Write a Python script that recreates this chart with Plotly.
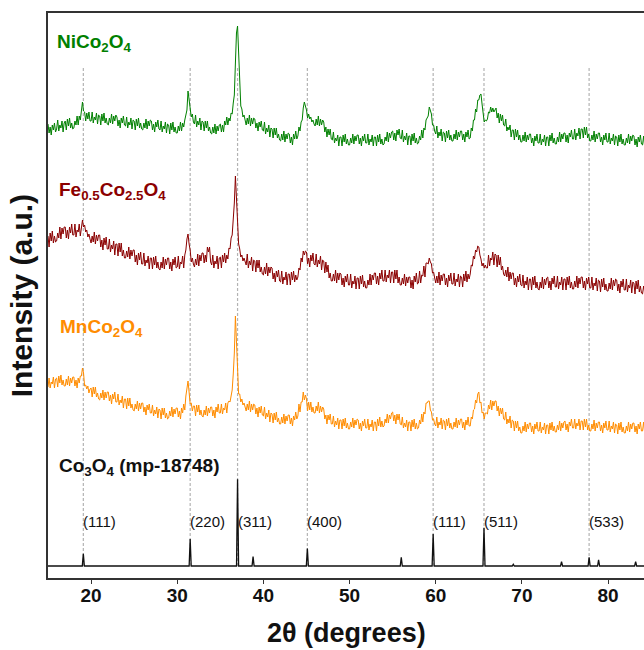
import numpy as np
import plotly.graph_objects as go

# ---- measured patterns: intensity (a.u.), one row per degree, 0.125 deg steps from 15 deg ----
TWO_THETA_START = 15.0
TWO_THETA_STEP = 0.125

nico2o4 = [
    34, 25, 31, 23, 33, 28, 35, 26,
    29, 38, 27, 33, 30, 37, 26, 35,
    37, 28, 39, 32, 40, 30, 35, 29,
    30, 37, 33, 42, 33, 42, 38, 46,
    56, 47, 46, 37, 45, 39, 46, 37,
    37, 46, 35, 41, 38, 45, 34, 43,
    42, 33, 44, 37, 45, 35, 40, 34,
    33, 40, 35, 44, 34, 42, 37, 43,
    41, 32, 38, 30, 40, 35, 42, 33,
    32, 41, 30, 36, 33, 40, 29, 38,
    37, 28, 39, 32, 40, 30, 35, 29,
    28, 35, 30, 39, 29, 37, 32, 38,
    37, 28, 34, 26, 36, 31, 38, 29,
    28, 37, 26, 32, 29, 36, 25, 34,
    33, 24, 35, 28, 36, 26, 31, 25,
    25, 32, 27, 36, 27, 35, 31, 38,
    44, 48, 67, 57, 50, 41, 44, 36,
    34, 43, 31, 37, 33, 40, 28, 37,
    36, 27, 37, 30, 37, 27, 31, 25,
    24, 31, 25, 34, 24, 32, 27, 33,
    34, 26, 33, 26, 37, 33, 41, 33,
    40, 37, 45, 44, 55, 63, 95, 125,
    132, 100, 66, 52, 49, 41, 43, 37,
    33, 40, 34, 43, 32, 40, 34, 40,
    39, 30, 35, 27, 36, 31, 37, 28,
    27, 36, 24, 30, 26, 33, 21, 30,
    29, 20, 30, 23, 30, 20, 24, 18,
    17, 24, 18, 27, 16, 24, 19, 25,
    24, 15, 21, 13, 24, 19, 27, 19,
    22, 31, 27, 36, 38, 50, 56, 52,
    48, 40, 44, 39, 41, 36, 38, 34,
    32, 39, 33, 42, 32, 39, 33, 38,
    36, 26, 31, 21, 29, 23, 29, 19,
    18, 26, 15, 20, 17, 23, 12, 21,
    21, 12, 23, 16, 24, 14, 19, 13,
    13, 20, 15, 24, 14, 22, 17, 23,
    23, 14, 20, 12, 22, 17, 24, 15,
    15, 24, 13, 19, 16, 23, 12, 21,
    21, 12, 23, 16, 24, 14, 19, 13,
    14, 21, 17, 26, 16, 25, 20, 26,
    27, 18, 25, 17, 28, 23, 29, 20,
    19, 28, 16, 22, 18, 25, 13, 22,
    22, 13, 24, 17, 25, 15, 20, 14,
    15, 22, 18, 28, 20, 30, 28, 38,
    40, 42, 51, 46, 44, 33, 33, 27,
    24, 32, 20, 26, 22, 29, 17, 26,
    25, 16, 27, 20, 28, 18, 23, 17,
    17, 24, 19, 28, 18, 26, 21, 27,
    27, 18, 24, 16, 26, 21, 28, 19,
    20, 30, 27, 38, 38, 49, 46, 58,
    58, 63, 64, 54, 47, 36, 38, 37,
    39, 46, 45, 51, 46, 50, 46, 49,
    50, 40, 45, 35, 44, 37, 43, 33,
    32, 39, 27, 31, 28, 33, 21, 28,
    28, 18, 29, 21, 28, 18, 23, 16,
    16, 23, 17, 26, 16, 23, 18, 24,
    24, 15, 20, 12, 22, 17, 24, 15,
    15, 24, 13, 19, 16, 23, 12, 21,
    21, 12, 23, 17, 25, 15, 20, 14,
    14, 21, 16, 26, 16, 24, 19, 25,
    25, 16, 23, 15, 25, 21, 28, 19,
    19, 29, 18, 25, 22, 30, 19, 29,
    29, 20, 31, 23, 31, 20, 24, 17,
    17, 23, 18, 27, 16, 24, 19, 25,
    25, 16, 21, 13, 23, 18, 25, 16,
    16, 25, 14, 20, 17, 24, 13, 22,
    21, 12, 23, 16, 24, 14, 19, 13,
    13, 20, 15, 24, 14, 22, 17, 23,
    22, 13, 19, 11, 21, 16, 23, 14,
    13, 22, 11,
]

fe05co25o4 = [
    72, 61, 75, 67, 77, 65, 72, 66,
    67, 75, 70, 81, 69, 80, 74, 81,
    81, 70, 78, 69, 81, 75, 84, 73,
    73, 84, 71, 78, 76, 84, 72, 84,
    88, 81, 83, 76, 78, 71, 74, 69,
    65, 72, 66, 76, 64, 73, 67, 73,
    73, 61, 68, 58, 70, 63, 71, 59,
    59, 69, 56, 63, 59, 67, 53, 64,
    64, 52, 65, 56, 65, 52, 58, 50,
    50, 57, 51, 61, 49, 58, 52, 58,
    58, 46, 53, 43, 55, 48, 56, 44,
    44, 55, 42, 48, 45, 52, 39, 50,
    50, 39, 51, 43, 52, 40, 46, 39,
    38, 46, 40, 51, 39, 49, 43, 50,
    50, 39, 46, 37, 49, 43, 51, 40,
    41, 52, 39, 46, 44, 52, 40, 53,
    58, 69, 74, 64, 58, 46, 50, 44,
    41, 49, 43, 54, 42, 53, 47, 55,
    55, 45, 53, 46, 61, 56, 61, 46,
    43, 53, 40, 47, 44, 52, 39, 50,
    51, 40, 53, 46, 55, 45, 53, 49,
    60, 59, 70, 73, 87, 105, 132, 110,
    80, 64, 59, 51, 53, 47, 50, 45,
    43, 54, 40, 47, 43, 51, 37, 48,
    47, 36, 48, 40, 48, 36, 41, 34,
    33, 41, 34, 45, 32, 41, 35, 41,
    40, 29, 35, 26, 37, 31, 38, 27,
    26, 37, 24, 31, 28, 36, 23, 34,
    34, 23, 36, 28, 37, 26, 33, 28,
    31, 40, 38, 50, 46, 57, 53, 57,
    56, 44, 50, 41, 53, 47, 55, 44,
    43, 54, 41, 48, 44, 52, 38, 48,
    47, 35, 46, 36, 43, 30, 35, 27,
    27, 34, 27, 38, 25, 35, 28, 35,
    34, 23, 30, 21, 32, 26, 34, 23,
    23, 34, 20, 27, 24, 32, 19, 30,
    30, 19, 32, 24, 33, 21, 27, 20,
    20, 28, 23, 34, 23, 33, 28, 35,
    35, 24, 32, 23, 35, 29, 38, 27,
    27, 38, 26, 33, 30, 38, 25, 36,
    36, 25, 38, 29, 38, 25, 31, 23,
    23, 30, 24, 34, 22, 31, 25, 31,
    31, 20, 28, 19, 32, 26, 35, 24,
    25, 37, 25, 33, 32, 42, 31, 45,
    45, 44, 50, 46, 44, 35, 36, 30,
    25, 32, 25, 36, 23, 33, 27, 34,
    34, 23, 30, 21, 33, 27, 35, 24,
    24, 35, 22, 29, 26, 34, 21, 32,
    31, 21, 34, 27, 37, 26, 34, 29,
    34, 43, 42, 52, 49, 58, 56, 62,
    61, 53, 49, 42, 45, 40, 43, 40,
    40, 53, 42, 50, 48, 56, 43, 54,
    53, 41, 53, 43, 51, 38, 42, 34,
    32, 38, 31, 41, 27, 36, 29, 35,
    35, 23, 30, 21, 32, 26, 34, 23,
    22, 33, 20, 27, 23, 31, 18, 29,
    29, 18, 31, 23, 32, 20, 26, 19,
    18, 26, 20, 31, 19, 29, 23, 30,
    31, 20, 27, 18, 30, 24, 32, 21,
    21, 32, 19, 26, 23, 31, 18, 29,
    29, 18, 31, 23, 32, 20, 26, 19,
    19, 27, 21, 32, 20, 30, 24, 31,
    31, 20, 27, 18, 30, 24, 31, 20,
    20, 31, 18, 25, 22, 30, 17, 28,
    27, 16, 29, 21, 30, 18, 24, 17,
    17, 25, 19, 30, 18, 28, 22, 29,
    28, 17, 24, 15, 27, 21, 29, 18,
    18, 29, 16, 23, 20, 28, 15, 26,
    25, 14, 27, 19, 28, 16, 22, 15,
    14, 22, 16,
]

mnco2o4 = [
    61, 70, 60, 66, 64, 71, 60, 69,
    70, 61, 72, 65, 73, 63, 68, 62,
    62, 69, 63, 72, 62, 70, 65, 71,
    71, 62, 68, 60, 70, 65, 72, 72,
    80, 75, 62, 63, 59, 62, 55, 59,
    60, 51, 61, 54, 61, 51, 55, 49,
    48, 55, 50, 58, 48, 56, 50, 56,
    56, 47, 53, 44, 54, 49, 56, 46,
    46, 54, 43, 48, 45, 52, 40, 49,
    49, 39, 50, 42, 50, 40, 44, 38,
    37, 44, 39, 47, 37, 45, 39, 45,
    45, 36, 41, 33, 43, 38, 44, 35,
    35, 43, 32, 38, 34, 41, 30, 39,
    38, 29, 40, 33, 40, 30, 35, 29,
    30, 37, 32, 41, 31, 39, 34, 40,
    40, 31, 37, 29, 40, 35, 44, 38,
    52, 58, 67, 56, 44, 45, 37, 42,
    42, 32, 43, 36, 43, 33, 38, 32,
    31, 38, 33, 42, 32, 40, 35, 41,
    41, 32, 38, 30, 41, 36, 44, 35,
    35, 44, 34, 40, 38, 45, 35, 45,
    47, 46, 55, 58, 74, 95, 132, 100,
    70, 54, 54, 46, 49, 43, 45, 40,
    37, 44, 38, 47, 36, 44, 38, 44,
    43, 34, 40, 31, 41, 35, 42, 33,
    32, 41, 29, 35, 31, 38, 26, 35,
    34, 25, 35, 28, 36, 26, 30, 24,
    24, 31, 25, 34, 24, 32, 27, 33,
    33, 24, 30, 22, 32, 28, 36, 29,
    32, 44, 36, 46, 46, 56, 48, 53,
    49, 37, 46, 38, 46, 36, 41, 35,
    35, 42, 37, 46, 35, 42, 36, 41,
    39, 29, 33, 24, 33, 28, 34, 24,
    24, 32, 21, 27, 23, 30, 19, 28,
    28, 19, 29, 22, 30, 20, 25, 19,
    19, 26, 21, 30, 20, 28, 23, 29,
    28, 19, 25, 17, 27, 22, 29, 20,
    20, 29, 18, 24, 21, 28, 17, 26,
    26, 17, 29, 22, 31, 21, 27, 21,
    22, 29, 25, 34, 25, 33, 29, 35,
    36, 27, 33, 24, 34, 28, 34, 24,
    23, 31, 20, 25, 21, 28, 17, 26,
    26, 17, 28, 21, 29, 19, 25, 19,
    20, 28, 24, 34, 26, 36, 34, 45,
    45, 47, 47, 38, 36, 28, 29, 24,
    22, 31, 20, 26, 23, 30, 19, 28,
    27, 18, 29, 22, 30, 20, 25, 19,
    19, 26, 21, 30, 20, 28, 23, 29,
    29, 20, 26, 18, 28, 23, 31, 22,
    22, 31, 29, 38, 39, 48, 45, 54,
    56, 45, 46, 35, 36, 29, 35, 35,
    34, 43, 39, 48, 38, 47, 42, 47,
    47, 37, 42, 32, 40, 34, 40, 29,
    28, 36, 24, 29, 25, 32, 20, 28,
    27, 17, 27, 20, 27, 17, 21, 15,
    15, 22, 17, 26, 16, 24, 19, 25,
    25, 16, 22, 14, 24, 19, 26, 17,
    17, 26, 15, 21, 18, 25, 14, 23,
    23, 14, 25, 18, 26, 17, 22, 16,
    16, 23, 18, 27, 17, 25, 20, 26,
    27, 18, 24, 16, 26, 22, 29, 20,
    20, 29, 19, 25, 22, 29, 18, 27,
    27, 18, 29, 21, 29, 18, 23, 17,
    17, 24, 19, 28, 17, 25, 20, 26,
    26, 17, 23, 15, 25, 20, 27, 18,
    18, 27, 16, 22, 19, 26, 15, 24,
    23, 14, 25, 18, 26, 16, 21, 15,
    15, 22, 17, 26, 16, 24, 19, 25,
    25, 16, 22, 14, 24, 19, 26, 17,
    17, 26, 15,
]

# ---- Co3O4 reference (mp-18748): peak positions and relative intensities ----
ref_two_theta = [19.1, 31.5, 37.0, 38.8, 45.1, 56.0, 59.7, 65.6, 69.0, 74.6, 77.8, 78.9, 83.2]
ref_intensity = [14, 31, 100, 11, 20, 10, 37, 44, 2, 5, 10, 7, 5]

# indexed reflections (marked with guide lines)
hkl_two_theta = [19.1, 31.5, 37.0, 45.1, 59.7, 65.6, 77.8]
hkl_labels = ["(111)", "(220)", "(311)", "(400)", "(111)", "(511)", "(533)"]

# ---- stacking / styling ----
X_RANGE = [15.0, 84.17]
Y_RANGE = [0, 565]
OFFSETS = {"ni": 420, "fe": 270, "mn": 130}
REF_BASE = 12
REF_SCALE = 0.867
GUIDE_TOP = 512
FONT = "Liberation Sans, Arial, sans-serif"

GREEN = "#008000"
DARKRED = "#8b0000"
ORANGE = "#ff8c00"


def two_theta(vals):
    return TWO_THETA_START + TWO_THETA_STEP * np.arange(len(vals))


fig = go.Figure()

# dotted guide lines at indexed reflections
for pos in hkl_two_theta:
    fig.add_shape(type="line", x0=pos, x1=pos, y0=REF_BASE, y1=GUIDE_TOP,
                  xref="x", yref="y", layer="below",
                  line=dict(color="#b3b3b3", width=1.2, dash="3px,2px"))

series = [
    (mnco2o4, OFFSETS["mn"], ORANGE),
    (fe05co25o4, OFFSETS["fe"], DARKRED),
    (nico2o4, OFFSETS["ni"], GREEN),
]
for vals, off, col in series:
    fig.add_trace(go.Scatter(x=two_theta(vals), y=np.asarray(vals, dtype=float) + off,
                             mode="lines", line=dict(color=col, width=1),
                             hoverinfo="skip", showlegend=False))

# stick pattern: each reflection drawn as a narrow spike on the baseline
sx, sy = [X_RANGE[0]], [REF_BASE]
for pos, inten in zip(ref_two_theta, ref_intensity):
    h = REF_BASE + inten * REF_SCALE
    sx += [pos - 0.12, pos, pos + 0.12]
    sy += [REF_BASE, h, REF_BASE]
sx.append(X_RANGE[1])
sy.append(REF_BASE)
fig.add_trace(go.Scatter(x=sx, y=sy, mode="lines", line=dict(color="#111111", width=1.3),
                         hoverinfo="skip", showlegend=False))

# sample labels
labels = [
    ("NiCo<sub>2</sub>O<sub>4</sub>", 15.8, 535, GREEN),
    ("Fe<sub>0.5</sub>Co<sub>2.5</sub>O<sub>4</sub>", 16.1, 387, DARKRED),
    ("MnCo<sub>2</sub>O<sub>4</sub>", 16.2, 250, ORANGE),
    ("Co<sub>3</sub>O<sub>4</sub> (mp-18748)", 16.1, 111, "#111111"),
]
for txt, lx, ly, col in labels:
    fig.add_annotation(x=lx, y=ly, text=txt, showarrow=False, xanchor="left",
                       yanchor="middle",
                       font=dict(family=FONT, size=19, color=col, weight="bold"))

for pos, lab in zip(hkl_two_theta, hkl_labels):
    fig.add_annotation(x=pos, y=57, text=lab, showarrow=False, xanchor="left",
                       yanchor="middle", xshift=-2,
                       font=dict(family=FONT, size=15, color="#111111"))

# axis titles
fig.add_annotation(xref="paper", yref="paper", x=0.5, y=-0.0965, text="<b>2θ (degrees)</b>",
                   showarrow=False, xanchor="center", yanchor="middle",
                   font=dict(family=FONT, size=27, color="#111111"))
fig.add_annotation(xref="paper", yref="paper", x=-0.044, y=0.5, text="<b>Intensity (a.u.)</b>",
                   showarrow=False, textangle=-90, xanchor="center", yanchor="middle",
                   font=dict(family=FONT, size=30, color="#111111"))

fig.update_layout(
    width=644, height=650,
    margin=dict(l=48, r=0, t=13, b=72),
    paper_bgcolor="white", plot_bgcolor="white",
    showlegend=False,
    xaxis=dict(range=X_RANGE, tickmode="array", tickvals=[20, 30, 40, 50, 60, 70, 80],
               showgrid=False, zeroline=False, showline=True, linecolor="#333333",
               linewidth=1.5, mirror=True, ticks="outside", ticklen=4, tickwidth=1.3,
               tickcolor="#333333", ticklabelstandoff=-5,
               tickfont=dict(family=FONT, size=19, color="#111111", weight="bold")),
    yaxis=dict(range=Y_RANGE, showgrid=False, zeroline=False, showline=True,
               linecolor="#333333", linewidth=1.5, showticklabels=False, ticks=""),
)

fig.write_html("out.html")
